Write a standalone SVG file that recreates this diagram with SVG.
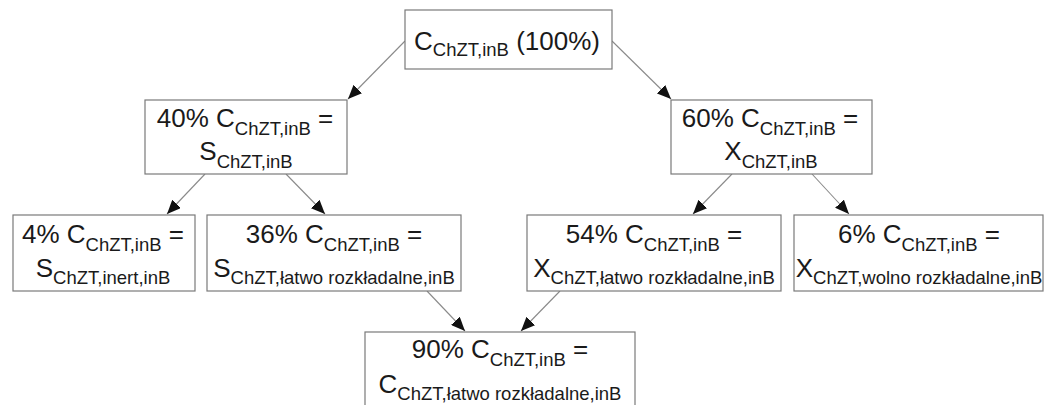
<svg xmlns="http://www.w3.org/2000/svg" width="1044" height="405" viewBox="0 0 1044 405">
<style>
.box{fill:#fff;stroke:#7a7a7a;stroke-width:1.2}
.t{font-family:"Liberation Sans",Arial,sans-serif;font-size:26px;fill:#1a1a1a;text-anchor:middle;white-space:pre}
.s{font-size:18.5px}
.c{stroke:#8a8a8a;stroke-width:1.1;fill:none;marker-end:url(#ah)}
</style>
<defs>
<marker id="ah" markerUnits="userSpaceOnUse" markerWidth="14" markerHeight="12" refX="14" refY="6" orient="auto">
<path d="M0,0 L14,6 L0,12 z" fill="#111"/>
</marker>
</defs>
<rect width="1044" height="405" fill="#fff"/>
<g id="connectors">
<line class="c" x1="405" y1="41" x2="348" y2="99"/>
<line class="c" x1="612" y1="41" x2="671" y2="99"/>
<line class="c" x1="205" y1="174" x2="167" y2="214"/>
<line class="c" x1="286" y1="174" x2="325" y2="214"/>
<line class="c" x1="732" y1="174" x2="693" y2="214"/>
<line class="c" x1="812" y1="174" x2="849" y2="214"/>
<line class="c" x1="427" y1="291" x2="465" y2="331"/>
<line class="c" x1="560" y1="291" x2="521" y2="331"/>
</g>
<g id="n_top">
<rect class="box" x="405" y="10" width="207" height="59"/>
<text class="t" x="507" y="50">C<tspan class="s" dy="6">ChZT,inB</tspan><tspan dy="-6"> (100%)</tspan></text>
</g>
<g id="n_S">
<rect class="box" x="145" y="100" width="202" height="74"/>
<text class="t" x="245" y="127">40% C<tspan class="s" dy="8">ChZT,inB</tspan><tspan dy="-8"> =</tspan></text>
<text class="t" x="246" y="160">S<tspan class="s" dy="8">ChZT,inB</tspan></text>
</g>
<g id="n_X">
<rect class="box" x="671" y="100" width="201" height="74"/>
<text class="t" x="770" y="127">60% C<tspan class="s" dy="8">ChZT,inB</tspan><tspan dy="-8"> =</tspan></text>
<text class="t" x="771" y="160">X<tspan class="s" dy="8">ChZT,inB</tspan></text>
</g>
<g id="n_S_inert">
<rect class="box" x="13" y="215" width="182" height="76"/>
<text class="t" x="103" y="243">4% C<tspan class="s" dy="8">ChZT,inB</tspan><tspan dy="-8"> =</tspan></text>
<text class="t" x="103" y="277">S<tspan class="s" dy="7">ChZT,inert,inB</tspan></text>
</g>
<g id="n_S_latwo">
<rect class="box" x="207" y="215" width="254" height="76"/>
<text class="t" x="334" y="243">36% C<tspan class="s" dy="8">ChZT,inB</tspan><tspan dy="-8"> =</tspan></text>
<text class="t" x="334" y="277">S<tspan class="s" dy="7">ChZT,łatwo rozkładalne,inB</tspan></text>
</g>
<g id="n_X_latwo">
<rect class="box" x="527" y="215" width="254" height="76"/>
<text class="t" x="654" y="243">54% C<tspan class="s" dy="8">ChZT,inB</tspan><tspan dy="-8"> =</tspan></text>
<text class="t" x="654" y="277">X<tspan class="s" dy="7">ChZT,łatwo rozkładalne,inB</tspan></text>
</g>
<g id="n_X_wolno">
<rect class="box" x="794" y="215" width="249" height="76"/>
<text class="t" x="919" y="243">6% C<tspan class="s" dy="8">ChZT,inB</tspan><tspan dy="-8"> =</tspan></text>
<text class="t" x="919" y="277">X<tspan class="s" dy="7">ChZT,wolno rozkładalne,inB</tspan></text>
</g>
<g id="n_C_latwo">
<rect class="box" x="365" y="332" width="270" height="80"/>
<text class="t" x="500" y="358">90% C<tspan class="s" dy="8">ChZT,inB</tspan><tspan dy="-8"> =</tspan></text>
<text class="t" x="500" y="393">C<tspan class="s" dy="7">ChZT,łatwo rozkładalne,inB</tspan></text>
</g>
</svg>
